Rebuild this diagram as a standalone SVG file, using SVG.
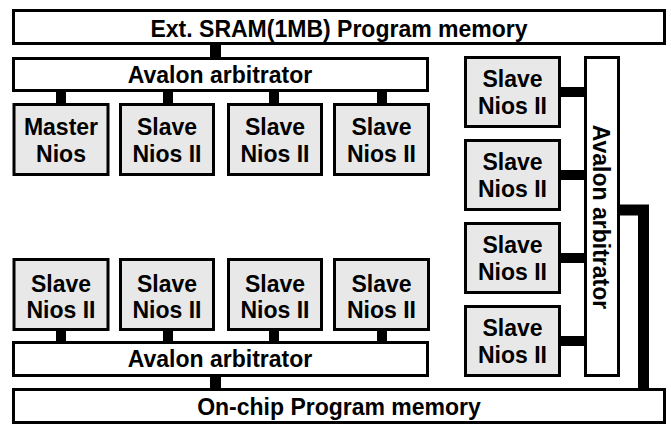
<svg xmlns="http://www.w3.org/2000/svg" width="671" height="426" viewBox="0 0 671 426">
<style>
.bar{fill:#fff;stroke:#000;stroke-width:3}
.cpu{fill:#e8e8e8;stroke:#000;stroke-width:3}
text{font-family:"Liberation Sans",Arial,sans-serif;font-weight:bold;font-size:23px;fill:#000;text-anchor:middle}
.c{fill:#000}
</style>
<rect width="671" height="426" fill="#fff"/>
<g id="connectors">
<rect class="c" x="210" y="44" width="11" height="15"/>
<rect class="c" x="56" y="90" width="10" height="15"/>
<rect class="c" x="163" y="90" width="10" height="15"/>
<rect class="c" x="269" y="90" width="10" height="15"/>
<rect class="c" x="377" y="90" width="10" height="15"/>
<rect class="c" x="56" y="329" width="10" height="14"/>
<rect class="c" x="163" y="329" width="10" height="14"/>
<rect class="c" x="269" y="329" width="10" height="14"/>
<rect class="c" x="377" y="329" width="10" height="14"/>
<rect class="c" x="210" y="375" width="11" height="15"/>
<rect class="c" x="559" y="87" width="27" height="10"/>
<rect class="c" x="559" y="170" width="27" height="10"/>
<rect class="c" x="559" y="253" width="27" height="10"/>
<rect class="c" x="559" y="336" width="27" height="10"/>
<path d="M618,210 H643.5 V390" fill="none" stroke="#000" stroke-width="11"/>
</g>
<g id="sram"><rect class="bar" x="13.5" y="10.5" width="651" height="33"/><text x="339" y="37">Ext. SRAM(1MB) Program memory</text></g>
<g id="arb-top"><rect class="bar" x="13.5" y="58.5" width="414" height="32"/><text x="220" y="83">Avalon arbitrator</text></g>
<g id="master"><rect class="cpu" x="14" y="104.5" width="94" height="70"/><text x="61" y="135">Master</text><text x="61" y="162">Nios</text></g>
<g id="slave-t2"><rect class="cpu" x="120.5" y="104.5" width="93" height="70"/><text x="167" y="135">Slave</text><text x="167" y="162">Nios II</text></g>
<g id="slave-t3"><rect class="cpu" x="228.5" y="104.5" width="93" height="70"/><text x="275" y="135">Slave</text><text x="275" y="162">Nios II</text></g>
<g id="slave-t4"><rect class="cpu" x="334.5" y="104.5" width="94" height="70"/><text x="381.5" y="135">Slave</text><text x="381.5" y="162">Nios II</text></g>
<g id="slave-b1"><rect class="cpu" x="14" y="259.5" width="94" height="70"/><text x="61" y="292">Slave</text><text x="61" y="318">Nios II</text></g>
<g id="slave-b2"><rect class="cpu" x="120.5" y="259.5" width="93" height="70"/><text x="167" y="292">Slave</text><text x="167" y="318">Nios II</text></g>
<g id="slave-b3"><rect class="cpu" x="228.5" y="259.5" width="93" height="70"/><text x="275" y="292">Slave</text><text x="275" y="318">Nios II</text></g>
<g id="slave-b4"><rect class="cpu" x="334.5" y="259.5" width="94" height="70"/><text x="381.5" y="292">Slave</text><text x="381.5" y="318">Nios II</text></g>
<g id="arb-bottom"><rect class="bar" x="13.5" y="342.5" width="414" height="33"/><text x="220" y="367">Avalon arbitrator</text></g>
<g id="onchip"><rect class="bar" x="13.5" y="389.5" width="651" height="33"/><text x="339" y="415">On-chip Program memory</text></g>
<g id="slave-r1"><rect class="cpu" x="465.5" y="57.5" width="94" height="69"/><text x="512.5" y="87">Slave</text><text x="512.5" y="114">Nios II</text></g>
<g id="slave-r2"><rect class="cpu" x="465.5" y="140.5" width="94" height="69"/><text x="512.5" y="170">Slave</text><text x="512.5" y="197">Nios II</text></g>
<g id="slave-r3"><rect class="cpu" x="465.5" y="223.5" width="94" height="69"/><text x="512.5" y="253">Slave</text><text x="512.5" y="280">Nios II</text></g>
<g id="slave-r4"><rect class="cpu" x="465.5" y="306.5" width="94" height="69"/><text x="512.5" y="336">Slave</text><text x="512.5" y="363">Nios II</text></g>
<g id="arb-right"><rect class="bar" x="585.5" y="57.5" width="33" height="318"/><text transform="translate(593,217) rotate(90)">Avalon arbitrator</text></g>
</svg>
